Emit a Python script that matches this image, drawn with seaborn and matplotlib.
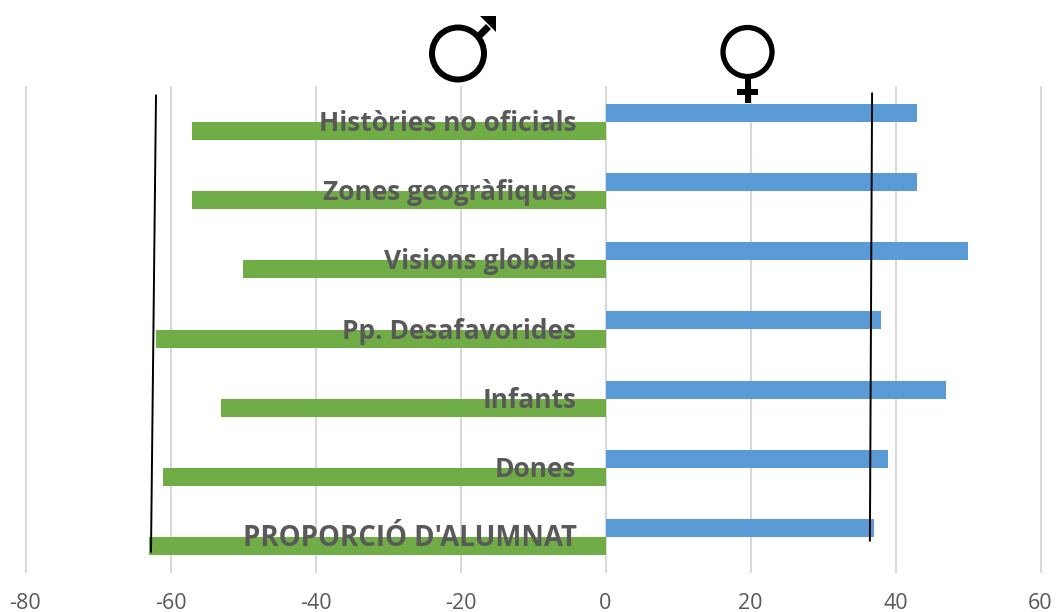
import matplotlib
matplotlib.use("Agg")
import matplotlib.pyplot as plt
from matplotlib.patches import Circle, Polygon, Rectangle
from matplotlib.transforms import Affine2D
import pandas as pd
import seaborn as sns

categories = ["Històries no oficials", "Zones geogràfiques", "Visions globals",
              "Pp. Desafavorides", "Infants", "Dones", "PROPORCIÓ D'ALUMNAT"]
nois = [-57, -57, -50, -62, -53, -61, -63]
noies = [43, 43, 50, 38, 47, 39, 37]
xticks = [-80, -60, -40, -20, 0, 20, 40, 60]

# Hand-drawn trend strokes over each side: (x, category position) end points
trend_nois_x = [-62.0, -62.69]
trend_nois_y = [-0.38, 6.21]
trend_noies_x = [36.77, 36.47]
trend_noies_y = [-0.41, 6.05]

sns.set_theme(style="white")
plt.rcParams["font.family"] = ["Open Sans", "DejaVu Sans"]
plt.rcParams["axes.unicode_minus"] = False

df = pd.DataFrame({
    "tema": categories * 2,
    "valor": noies + nois,
    "sexe": ["noies"] * len(categories) + ["nois"] * len(categories),
})

W, H = 1056, 612
fig = plt.figure(figsize=(W / 100, H / 100), dpi=100)
ax = fig.add_axes([25.5 / W, 1 - 572 / H, (1040.5 - 25.5) / W, (572 - 87) / H])

sns.barplot(data=df, y="tema", x="valor", hue="sexe", hue_order=["noies", "nois"],
            order=categories, palette={"noies": "#5B9BD5", "nois": "#70AD47"},
            width=0.52, saturation=1, linewidth=0, legend=False, ax=ax, zorder=3)

ax.set_xlim(-80, 60)
ax.set_ylim(6.5, -0.5)
ax.set_xticks(xticks)
ax.set_xlabel("")
ax.set_ylabel("")
ax.set_yticks([])
ax.grid(axis="x", color="#D9D9D9", linewidth=1.5, zorder=0)
ax.set_axisbelow(True)
for gridline in ax.get_xgridlines():
    gridline.set_clip_on(False)
sns.despine(ax=ax, left=True, bottom=True, top=True, right=True)
ax.tick_params(axis="x", length=0, pad=15, labelsize=15.5, labelcolor="#595959")

for i, label in enumerate(categories):
    # The all-caps row is set a touch larger because Open Sans capitals run narrow
    size = 19.9 if label.isupper() else 19
    ax.annotate(label, (-4, i), xytext=(0, -6.5), textcoords="offset points",
                ha="right", va="baseline", fontsize=size, fontweight="bold",
                color="#595959", zorder=5)

ax.plot(trend_nois_x, trend_nois_y, color="black", lw=1.4, zorder=6, clip_on=False)
ax.plot(trend_noies_x, trend_noies_y, color="black", lw=1.4, zorder=6, clip_on=False)

# Gender symbols above each half of the chart, laid out in figure pixels
px = Affine2D().scale(1 / W, -1 / H).translate(0, 1) + fig.transFigure


def add_shape(shape):
    shape.set_transform(px)
    shape.set_zorder(7)
    fig.add_artist(shape)


add_shape(Circle((458, 53.5), 26, fill=False, edgecolor="black", linewidth=4.3))
add_shape(Polygon([(475, 35), (480, 40), (491, 29), (486, 24)], closed=True, color="black", linewidth=0))
add_shape(Polygon([(480, 15.5), (496, 15.5), (496, 31.5)], closed=True, color="black", linewidth=0))

add_shape(Circle((747.5, 52), 24.5, fill=False, edgecolor="black", linewidth=3.8))
add_shape(Rectangle((745, 78), 5.5, 25, color="black", linewidth=0))
add_shape(Rectangle((737, 89), 21, 5.5, color="black", linewidth=0))

fig.savefig("out.png", dpi=100)
